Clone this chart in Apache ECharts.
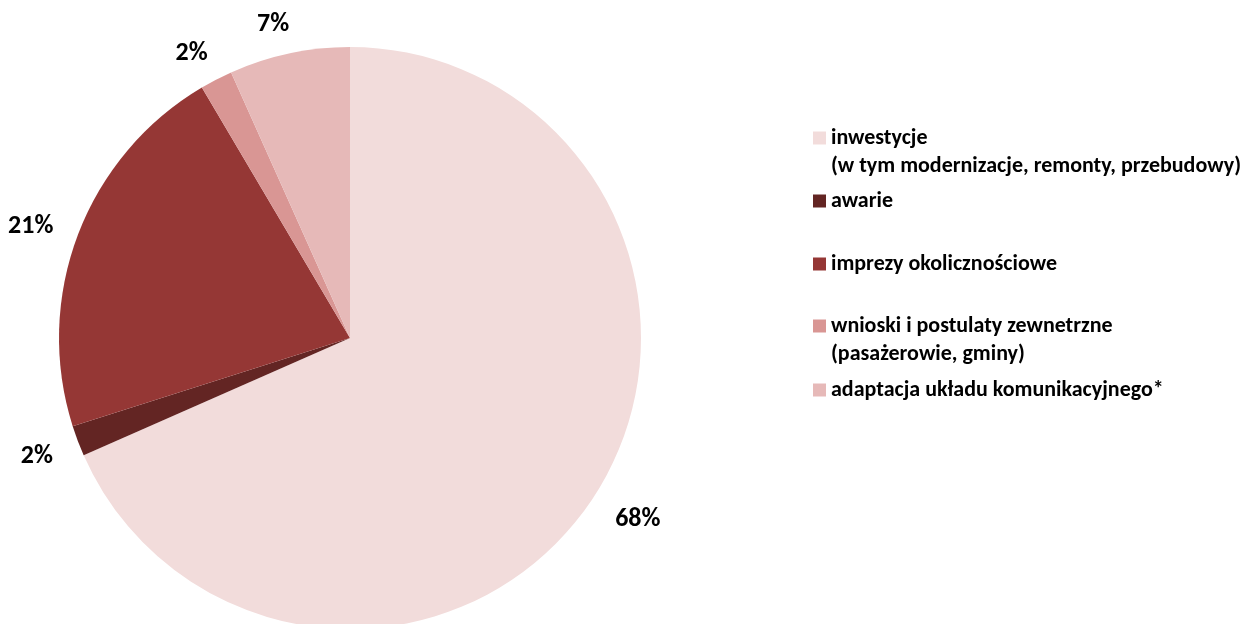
<!DOCTYPE html>
<html>
<head>
<meta charset="utf-8">
<script src="https://cdn.jsdelivr.net/npm/echarts@6/dist/echarts.min.js"></script>
<style>html,body{margin:0;padding:0;background:#fff;}#c{width:1246px;height:624px;}</style>
</head>
<body>
<div id="c"></div>
<script>
const categories = ['inwestycje', 'awarie', 'imprezy okolicznościowe', 'wnioski i postulaty zewnetrzne', 'adaptacja układu komunikacyjnego*'];
const subLines = ['(w tym modernizacje, remonty, przebudowy)', '', '', '(pasażerowie, gminy)', ''];
const values = [68.4, 1.7, 21.4, 1.8, 6.7];
const colors = ['#F2DCDB', '#632523', '#953735', '#D99694', '#E6B9B8'];
const legendTops = [96, 187, 250, 284, 376];

const FONT = "Carlito, 'Liberation Sans', Arial, sans-serif";
const chart = echarts.init(document.getElementById('c'), null, {renderer: 'canvas'});

const legends = categories.map((name, i) => ({
  left: 813,
  top: legendTops[i],
  padding: 0,
  orient: 'vertical',
  itemWidth: 13,
  itemHeight: 13,
  itemGap: 0,
  icon: 'rect',
  selectedMode: false,
  data: [name],
  formatter: n => subLines[i] ? ' \n' + n + '\n' + subLines[i] : n,
  textStyle: {fontFamily: FONT, fontWeight: 'bold', fontSize: 22, color: '#000', lineHeight: 28}
}));

chart.setOption({
  animation: false,
  color: colors,
  legend: legends,
  series: [{
    type: 'pie',
    center: [350, 338],
    radius: 291,
    startAngle: 90,
    clockwise: true,
    avoidLabelOverlap: false,
    data: categories.map((n, i) => ({name: n, value: values[i]})),
    itemStyle: {borderWidth: 0},
    label: {
      show: true,
      position: 'outside',
      formatter: p => '{p|' + Math.round(p.percent) + '%}',
      fontFamily: FONT,
      fontWeight: 'bold',
      fontSize: 26,
      color: '#000',
      distanceToLabelLine: 5,
      rich: {
        p: {fontFamily: FONT, fontWeight: 'bold', fontSize: 26, color: '#000', lineHeight: 30, padding: [8, 0, 0, 0]}
      }
    },
    labelLine: {show: false, length: 34, length2: -12},
    emphasis: {disabled: true}
  }]
});
</script>
</body>
</html>
